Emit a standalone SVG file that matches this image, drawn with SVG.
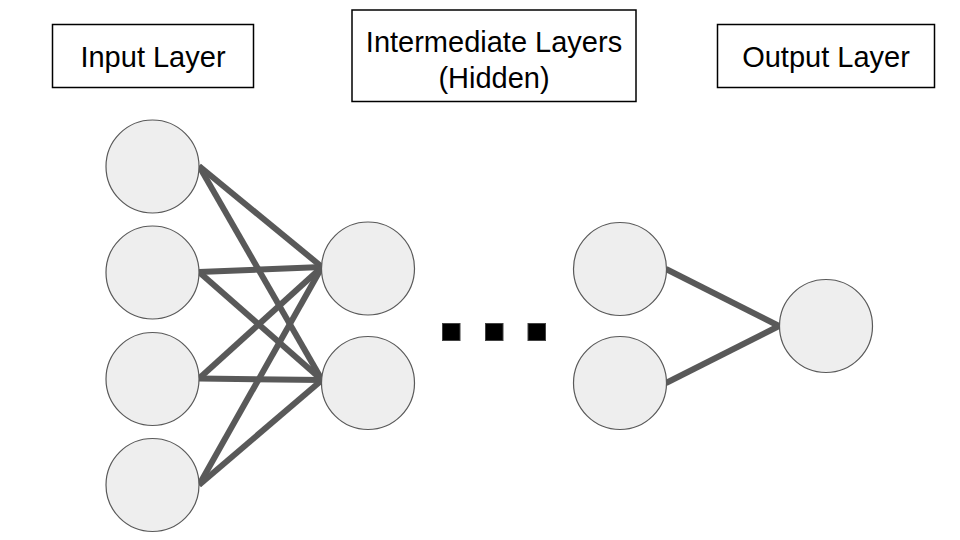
<svg xmlns="http://www.w3.org/2000/svg" width="960" height="540" viewBox="0 0 960 540">
<style>
.box{fill:#ffffff;stroke:#000000;stroke-width:1.5}
.lbl{font-family:"Liberation Sans",Arial,sans-serif;font-size:29px;fill:#000000;text-anchor:middle}
.neuron{fill:#eeeeee;stroke:#595959;stroke-width:1.2}
.edge{stroke:#595959;stroke-width:6;fill:none}
.dot{fill:#000000;stroke:#434343;stroke-width:1}
</style>
<rect width="960" height="540" fill="#ffffff"/>
<g id="label-input"><rect class="box" x="52.5" y="24.5" width="201" height="63"/><text class="lbl" x="153" y="66.5">Input Layer</text></g>
<g id="label-hidden"><rect class="box" x="352" y="10" width="284" height="91.5"/><text class="lbl" x="494" y="51.5">Intermediate Layers</text><text class="lbl" x="494" y="88">(Hidden)</text></g>
<g id="label-output"><rect class="box" x="717.5" y="24.5" width="217" height="63"/><text class="lbl" x="826" y="66.5">Output Layer</text></g>
<g id="connectors">
<line class="edge" x1="199" y1="166" x2="322" y2="267"/>
<line class="edge" x1="199" y1="166" x2="322" y2="380"/>
<line class="edge" x1="199" y1="272" x2="322" y2="267"/>
<line class="edge" x1="199" y1="272" x2="322" y2="380"/>
<line class="edge" x1="199" y1="378.5" x2="322" y2="267"/>
<line class="edge" x1="199" y1="378.5" x2="322" y2="380"/>
<line class="edge" x1="199" y1="485" x2="322" y2="267"/>
<line class="edge" x1="199" y1="485" x2="322" y2="380"/>
<line class="edge" x1="666" y1="269" x2="779" y2="326"/>
<line class="edge" x1="666" y1="383" x2="779" y2="326"/>
</g>
<g id="in1"><circle class="neuron" cx="152.5" cy="166.5" r="46.5"/></g>
<g id="in2"><circle class="neuron" cx="152.5" cy="272.5" r="46.5"/></g>
<g id="in3"><circle class="neuron" cx="152.5" cy="379" r="46.5"/></g>
<g id="in4"><circle class="neuron" cx="152.5" cy="485" r="46.5"/></g>
<g id="h1"><circle class="neuron" cx="368" cy="268.5" r="46.5"/></g>
<g id="h2"><circle class="neuron" cx="368" cy="383" r="46.5"/></g>
<g id="h3"><circle class="neuron" cx="620" cy="269" r="46.5"/></g>
<g id="h4"><circle class="neuron" cx="620" cy="383" r="46.5"/></g>
<g id="out1"><circle class="neuron" cx="826" cy="326" r="46.5"/></g>
<g id="ellipsis">
<rect class="dot" x="442.5" y="323.5" width="17.5" height="17"/>
<rect class="dot" x="485.5" y="323.5" width="17.5" height="17"/>
<rect class="dot" x="528" y="323.5" width="17.5" height="17"/>
</g>
</svg>
